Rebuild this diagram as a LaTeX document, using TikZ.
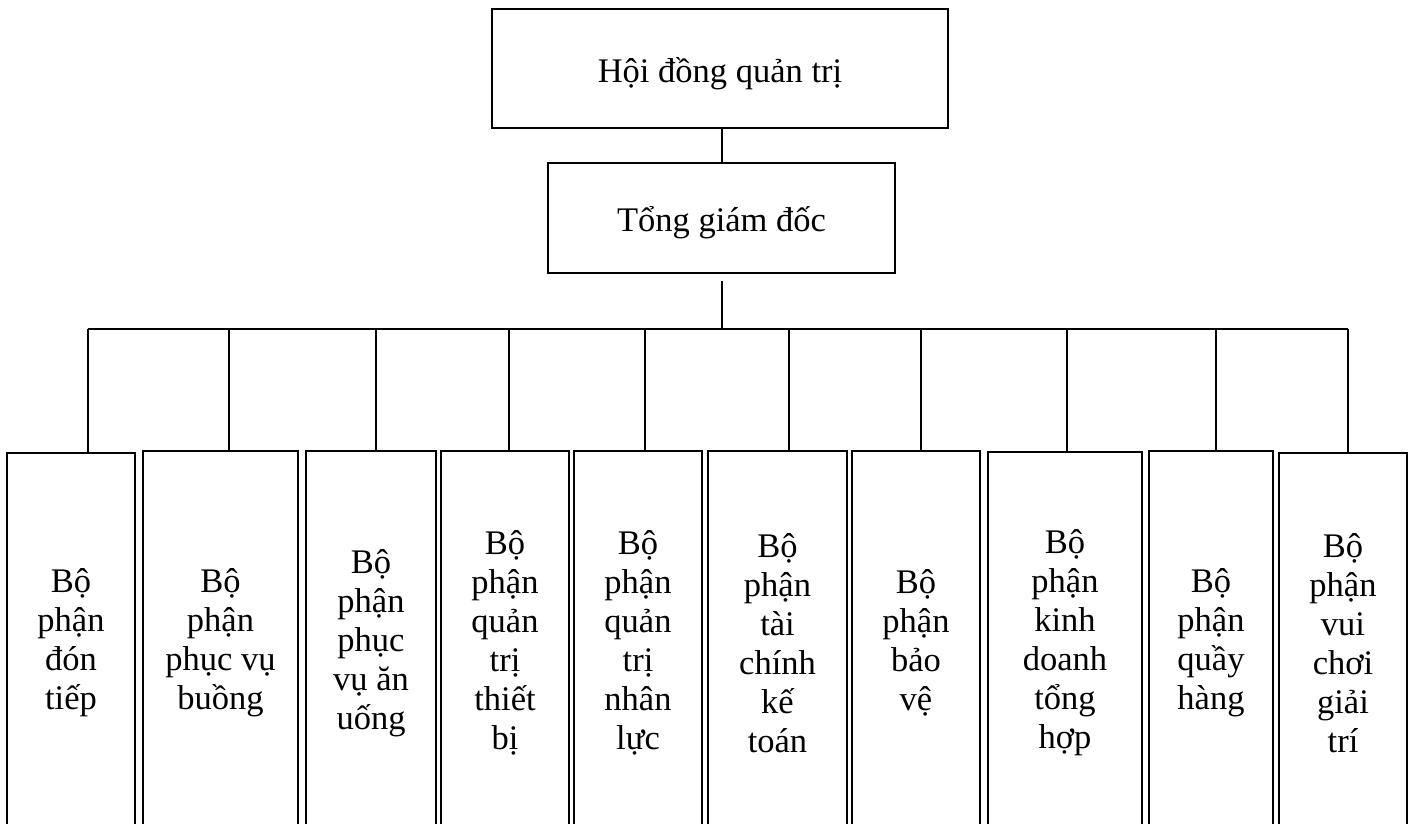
\documentclass[tikz,border=0pt]{standalone}
\usepackage{fontspec}
\setmainfont{Liberation Serif}
\begin{document}
\begin{tikzpicture}[x=1pt,y=-1pt,line width=1.8pt,
  topbox/.style={draw,rectangle,inner sep=0pt,minimum width=#1,
    text height=32pt,text depth=5pt,
    font=\fontsize{34.5}{39}\selectfont},
  unit/.style={draw,rectangle,inner sep=0pt,minimum width=#1,align=center,
    font=\fontsize{34.5}{39}\selectfont},
  link/.style={line width=1.6pt}]
\useasboundingbox (0,0) rectangle (1412,823);
\clip (0,0) rectangle (1412,823);

% management levels
\node[topbox=456,minimum height=119] (hd) at (720,68.5) {Hội đồng quản trị};
\node[topbox=347,minimum height=110] (gd) at (721.5,218) {Tổng giám đốc};

% departments (boxes run past the lower edge)
\node[unit=128,minimum height=380] (b1)  at (71,643)   {Bộ\\phận\\đón\\tiếp};
\node[unit=155,minimum height=384] (b2)  at (220.5,643) {Bộ\\phận\\phục vụ\\buồng};
\node[unit=130,minimum height=384] (b3)  at (371,643)  {Bộ\\phận\\phục\\vụ ăn\\uống};
\node[unit=128,minimum height=384] (b4)  at (505,643)  {Bộ\\phận\\quản\\trị\\thiết\\bị};
\node[unit=128,minimum height=384] (b5)  at (638,643)  {Bộ\\phận\\quản\\trị\\nhân\\lực};
\node[unit=139,minimum height=384] (b6)  at (777.5,643) {Bộ\\phận\\tài\\chính\\kế\\toán};
\node[unit=128,minimum height=384] (b7)  at (916,643)  {Bộ\\phận\\bảo\\vệ};
\node[unit=154,minimum height=382] (b8)  at (1065,643) {Bộ\\phận\\kinh\\doanh\\tổng\\hợp};
\node[unit=124,minimum height=384] (b9)  at (1211,643) {Bộ\\phận\\quầy\\hàng};
\node[unit=128,minimum height=380] (b10) at (1343,643) {Bộ\\phận\\vui\\chơi\\giải\\trí};

% junctions on the distribution bar
\coordinate (gdtail) at (722,281);
\coordinate (hub) at (722,329);
\coordinate (j1) at (88,329);
\coordinate (j2) at (229,329);
\coordinate (j3) at (376,329);
\coordinate (j4) at (509,329);
\coordinate (j5) at (645,329);
\coordinate (j6) at (789,329);
\coordinate (j7) at (921,329);
\coordinate (j8) at (1067,329);
\coordinate (j9) at (1216,329);
\coordinate (j10) at (1348,329);

\draw[link] (hd.south -| hub) -- (gd.north -| hub);
\draw[link] (gdtail) -- (hub);
\draw[link] (j1) -- (j10);
\foreach \i in {1,...,10}
  \draw[link] (j\i) -- (j\i |- b\i.north);
\end{tikzpicture}
\end{document}
